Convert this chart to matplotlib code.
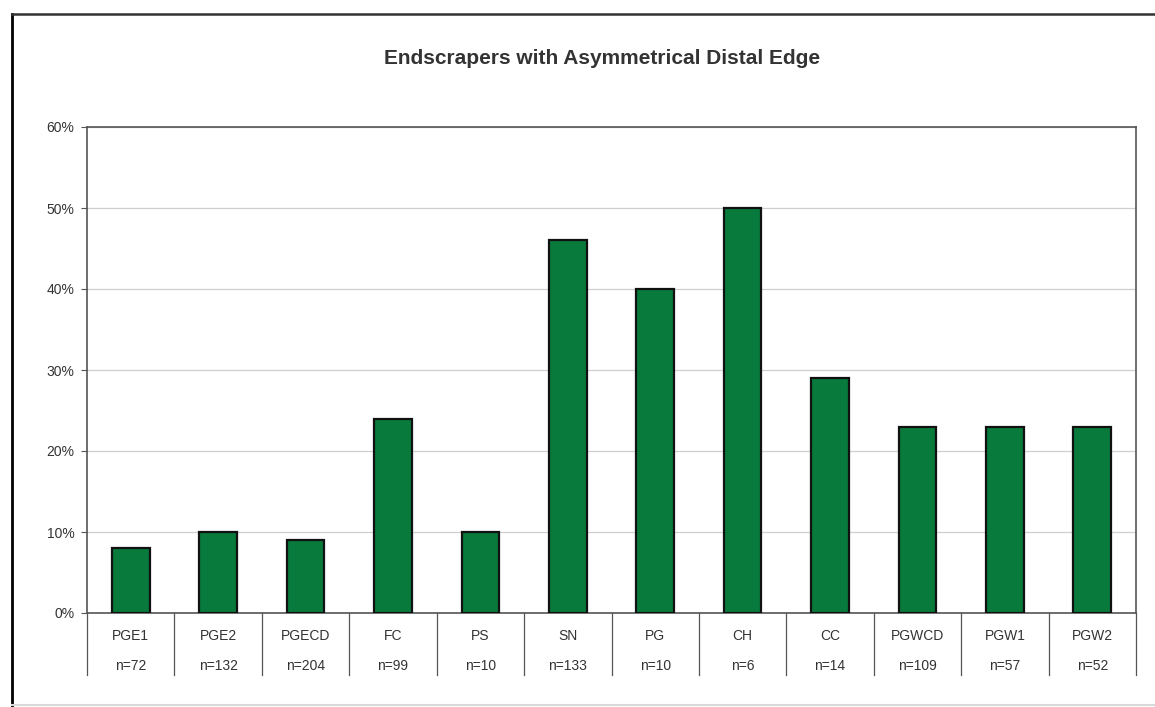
import matplotlib as mpl
import matplotlib.pyplot as plt
from matplotlib.lines import Line2D
from matplotlib.ticker import PercentFormatter
import matplotlib.transforms as mtrans

mpl.rcParams.update({
    "font.family": ["Liberation Sans", "DejaVu Sans"],
    "font.size": 9,
})

# ---- data ----
categories = ["PGE1", "PGE2", "PGECD", "FC", "PS", "SN", "PG", "CH", "CC",
              "PGWCD", "PGW1", "PGW2"]
sample_sizes = [72, 132, 204, 99, 10, 133, 10, 6, 14, 109, 57, 52]
pct_asym = [8, 10, 9, 24, 10, 46, 40, 50, 29, 23, 23, 23]
yticks = [0, 10, 20, 30, 40, 50, 60]

BAR = "#087a3c"
TEXT = "#333333"

fig = plt.figure(figsize=(11.55, 7.07), dpi=100)
ax = fig.add_axes([87 / 1155, 94 / 707, 1049 / 1155, 486 / 707])

x = range(len(categories))
ax.bar(x, pct_asym, width=0.43, color=BAR, edgecolor="#111111", linewidth=1.6,
       zorder=3)

ax.set_xlim(-0.5, len(categories) - 0.5)
ax.set_ylim(0, 60)
ax.set_yticks(yticks)
ax.yaxis.set_major_formatter(PercentFormatter(decimals=0))
ax.grid(axis="y", color="#cfcfcf", linewidth=0.9, zorder=0)
ax.tick_params(axis="y", length=4, width=0.8, colors="#555555",
               labelcolor=TEXT, labelsize=10, pad=5)
ax.tick_params(axis="x", length=0, labelbottom=False)
for s in ax.spines.values():
    s.set_color("#555555")
    s.set_linewidth(1.2)

# two-row category axis with separators
trans = mtrans.blended_transform_factory(ax.transData, ax.transAxes)
for i, (cat, n) in enumerate(zip(categories, sample_sizes)):
    ax.text(i, -0.047, cat, transform=trans, ha="center", va="center",
            fontsize=10, color=TEXT)
    ax.text(i, -0.109, f"n={n}", transform=trans, ha="center", va="center",
            fontsize=10, color=TEXT)
for b in range(len(categories) + 1):
    ax.add_line(Line2D([b - 0.5, b - 0.5], [0, -0.128], transform=trans,
                       color="#555555", linewidth=0.9, clip_on=False))

fig.text(602 / 1155, 1 - 58 / 707, "Endscrapers with Asymmetrical Distal Edge",
         ha="center", va="center", fontsize=15, fontweight="bold", color=TEXT)

# outer chart frame
fig.add_artist(Line2D([12 / 1155, 12 / 1155], [0, 1 - 14 / 707],
                      transform=fig.transFigure, color="black", linewidth=2))
fig.add_artist(Line2D([12 / 1155, 1], [1 - 14 / 707, 1 - 14 / 707],
                      transform=fig.transFigure, color="#333333", linewidth=1.8))
fig.add_artist(Line2D([12 / 1155, 1], [2 / 707, 2 / 707],
                      transform=fig.transFigure, color="#d8d8d8", linewidth=1.5))

fig.savefig("out.png", dpi=100, facecolor="white")
